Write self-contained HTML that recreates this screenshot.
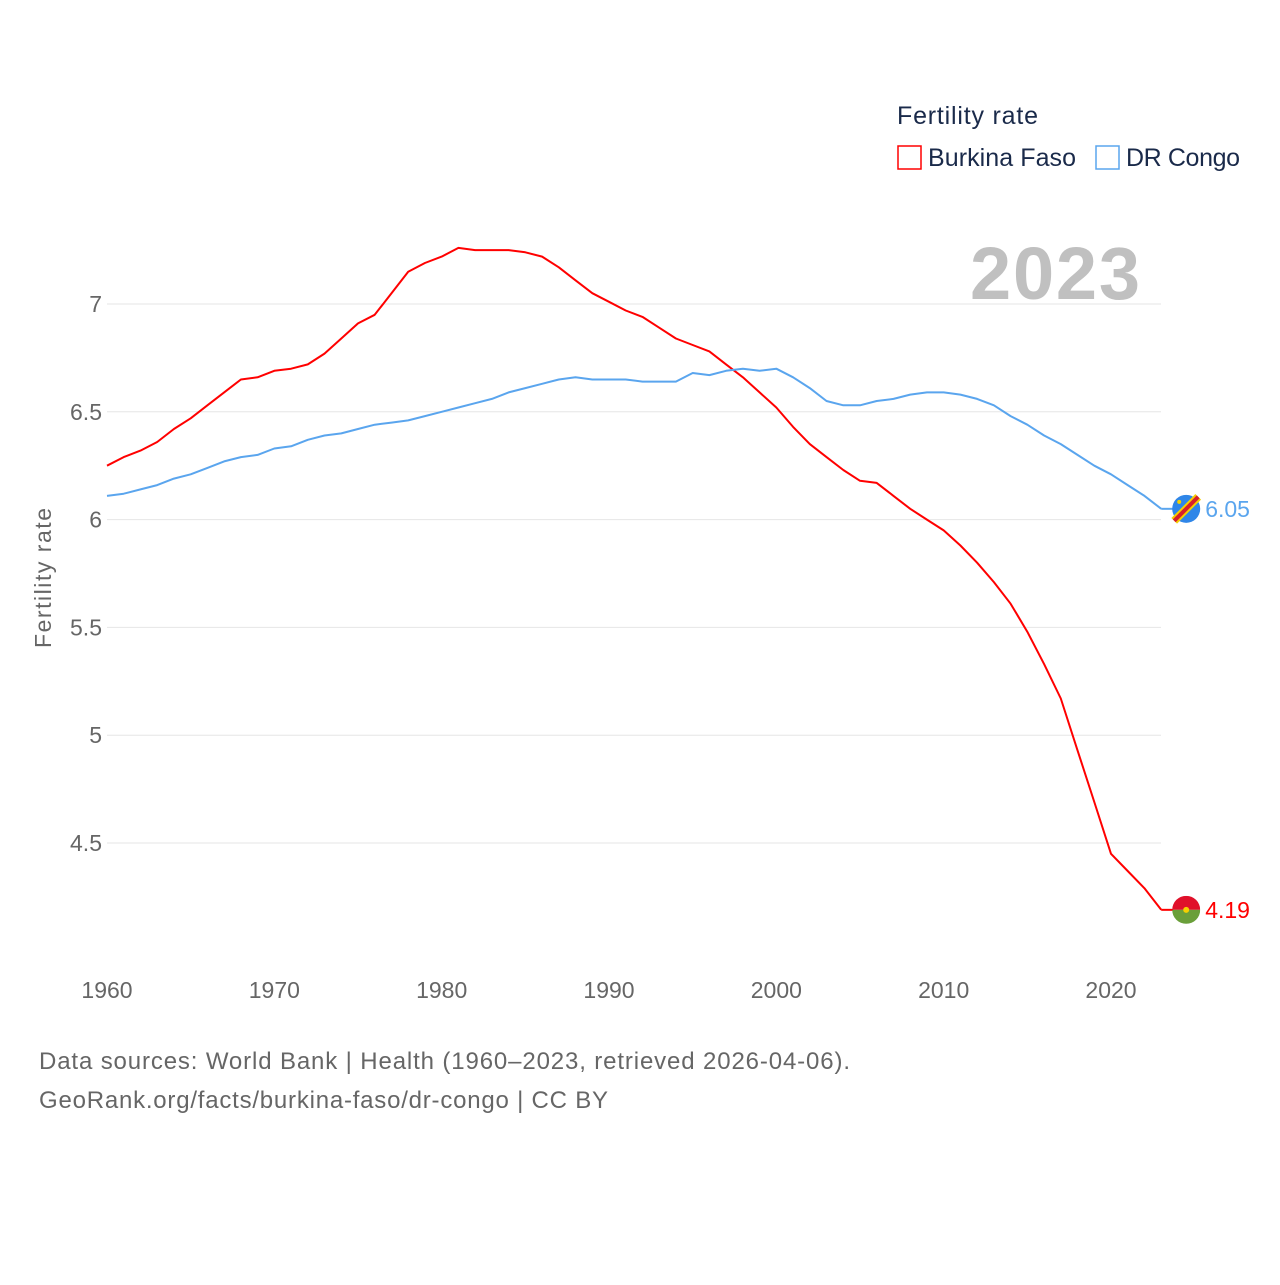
<!DOCTYPE html>
<html><head><meta charset="utf-8">
<style>
html,body{margin:0;padding:0;background:#fff;}
body{width:1280px;height:1280px;overflow:hidden;font-family:"Liberation Sans",sans-serif;}
</style></head>
<body>
<svg id="chart" width="1280" height="1280" xmlns="http://www.w3.org/2000/svg" font-family="Liberation Sans, sans-serif">
  <g id="grid"></g>
  <g id="yticks"></g>
  <g id="xticks"></g>
  <text transform="translate(51,578) rotate(-90)" text-anchor="middle" font-size="23" fill="#666" textLength="140">Fertility rate</text>
  <text x="970" y="299" font-size="74" font-weight="bold" fill="#c0c0c0" textLength="170">2023</text>
  <g>
    <text x="897" y="124" font-size="25" fill="#1a2a4a" textLength="141">Fertility rate</text>
    <g>
      <rect x="898" y="146" width="23" height="23" fill="none" stroke="#ff0000" stroke-width="1.5"/>
      <text x="928" y="166" font-size="25" fill="#1a2a4a" textLength="148">Burkina Faso</text>
    </g>
    <g>
      <rect x="1096" y="146" width="23" height="23" fill="none" stroke="#5aa5ee" stroke-width="1.5"/>
      <text x="1126" y="166" font-size="25" fill="#1a2a4a" textLength="114">DR Congo</text>
    </g>
  </g>
  <g id="series"></g>
  <g id="ends"></g>
  <text x="39" y="1069" font-size="24" fill="#666" textLength="811">Data sources: World Bank | Health (1960–2023, retrieved 2026-04-06).</text>
  <text x="39" y="1108" font-size="24" fill="#666" textLength="569">GeoRank.org/facts/burkina-faso/dr-congo | CC BY</text>
</svg>
<script>
const years = [];
for (let y = 1960; y <= 2023; y++) years.push(y);
const burkinaFaso = [6.25,6.29,6.32,6.36,6.42,6.47,6.53,6.59,6.65,6.66,6.69,6.70,6.72,6.77,6.84,6.91,6.95,7.05,7.15,7.19,7.22,7.26,7.25,7.25,7.25,7.24,7.22,7.17,7.11,7.05,7.01,6.97,6.94,6.89,6.84,6.81,6.78,6.72,6.66,6.59,6.52,6.43,6.35,6.29,6.23,6.18,6.17,6.11,6.05,6.00,5.95,5.88,5.80,5.71,5.61,5.48,5.33,5.17,4.93,4.69,4.45,4.37,4.29,4.19];
const drCongo = [6.11,6.12,6.14,6.16,6.19,6.21,6.24,6.27,6.29,6.30,6.33,6.34,6.37,6.39,6.40,6.42,6.44,6.45,6.46,6.48,6.50,6.52,6.54,6.56,6.59,6.61,6.63,6.65,6.66,6.65,6.65,6.65,6.64,6.64,6.64,6.68,6.67,6.69,6.70,6.69,6.70,6.66,6.61,6.55,6.53,6.53,6.55,6.56,6.58,6.59,6.59,6.58,6.56,6.53,6.48,6.44,6.39,6.35,6.30,6.25,6.21,6.16,6.11,6.05];
const yTicks = [4.5,5,5.5,6,6.5,7];
const yTickLabels = ["4.5","5","5.5","6","6.5","7"];
const xTicks = [1960,1970,1980,1990,2000,2010,2020];

const NS = "http://www.w3.org/2000/svg";
const xs = yr => 107 + (yr - 1960) * (1004 / 60);
const ys = v => 304 + (7 - v) * 215.6;
function mk(tag, attrs, parent){const e=document.createElementNS(NS,tag);for(const k in attrs)e.setAttribute(k,attrs[k]);parent.appendChild(e);return e;}

const grid = document.getElementById('grid'), yt = document.getElementById('yticks'), xt = document.getElementById('xticks');
yTicks.forEach((v,i)=>{
  const l = mk('line',{x1:107,x2:1161,y1:ys(v),y2:ys(v),stroke:'#e6e6e6','stroke-width':1},grid);
  
  
  const t = mk('text',{x:102,y:ys(v)+8,'text-anchor':'end','font-size':23,fill:'#666'},yt);
  t.textContent = yTickLabels[i];
  
  
});
xTicks.forEach(v=>{
  const t = mk('text',{x:xs(v),y:998,'text-anchor':'middle','font-size':23,fill:'#666'},xt);
  t.textContent = v;
  
  
});

const series = document.getElementById('series'), ends = document.getElementById('ends');
function drawLine(vals,color,name){
  const d = vals.map((v,i)=>(i?'L':'M')+xs(years[i]).toFixed(1)+','+ys(v).toFixed(1)).join('');
  const p = mk('path',{d:d,fill:'none',stroke:color,'stroke-width':2,'stroke-linejoin':'round'},series);
  
  
  const last = vals[vals.length-1], lx = xs(years[years.length-1]), ly = ys(last);
  mk('line',{x1:lx,x2:lx+12,y1:ly,y2:ly,stroke:color,'stroke-width':2},ends);
  const t = mk('text',{x:lx+44,y:ly+8,'font-size':23,fill:color},ends);
  t.textContent = last.toFixed(2);
  
  
  return [lx+25, ly];
}
const [bx,by] = drawLine(burkinaFaso,'#ff0000','burkina-faso');
const [cx,cy] = drawLine(drCongo,'#5aa5ee','dr-congo');
const bf = mk('g',{},ends);


const cp = mk('clipPath',{id:'cbf'},bf);
mk('circle',{cx:bx,cy:by,r:14},cp);
mk('rect',{x:bx-14,y:by-14,width:28,height:14,fill:'#e0102a','clip-path':'url(#cbf)'},bf);
mk('rect',{x:bx-14,y:by,width:28,height:14,fill:'#6a9f3a','clip-path':'url(#cbf)'},bf);
mk('circle',{cx:bx,cy:by,r:3,fill:'#f5d000'},bf);
const dc = mk('g',{},ends);


mk('circle',{cx:cx,cy:cy,r:14,fill:'#2f86e8'},dc);
mk('line',{x1:cx-12,y1:cy+12,x2:cx+12,y2:cy-12,stroke:'#f5d000','stroke-width':8},dc);
mk('line',{x1:cx-12,y1:cy+12,x2:cx+12,y2:cy-12,stroke:'#d8202a','stroke-width':4},dc);
mk('circle',{cx:cx-7,cy:cy-7,r:2,fill:'#f5d000'},dc);
</script>
</body></html>
